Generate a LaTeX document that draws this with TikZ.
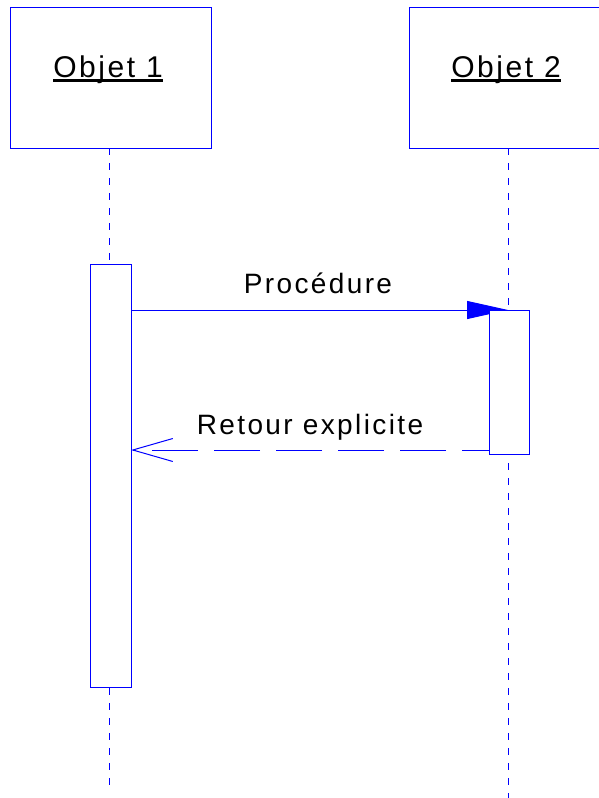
\documentclass[tikz,border=0pt]{standalone}
\usepackage{fontspec}
\setmainfont{Liberation Sans}[LetterSpace=8.5]
\usetikzlibrary{arrows.meta}
\begin{document}
\begin{tikzpicture}[x=1pt,y=-1pt,
  obj/.style={draw=blue, line width=1pt, minimum width=201pt, minimum height=141pt, inner sep=0pt, anchor=north west},
  act/.style={draw=blue, fill=white, line width=1pt, inner sep=0pt, anchor=north west},
  life/.style={draw=blue, line width=1pt, dash pattern=on 7pt off 8pt},
  ttl/.style={font=\fontsize{30}{32}\selectfont, inner sep=0pt, anchor=base},
  lbl/.style={font=\fontsize{28}{30}\selectfont, inner sep=0pt, anchor=base},
  uline/.style={line width=2.8pt, black},
  msg/.style={draw=blue, line width=1pt}]
\useasboundingbox (0,0) rectangle (599,798);
% objects
\node[obj] (o1) at (10,7) {};
\node[obj] (o2) at (409,7) {};
\node[ttl] (t1) at (108,77) {Objet 1};
\node[ttl] (t2) at (506,77) {Objet 2};
\draw[uline] ([yshift=-3.5pt]t1.base west) -- ([yshift=-3.5pt]t1.base east);
\draw[uline] ([yshift=-3.5pt]t2.base west) -- ([yshift=-3.5pt]t2.base east);
% lifelines
\coordinate (l1top) at (109.5,148);
\coordinate (l1end) at (109.5,785);
\coordinate (l2top) at (508,148);
\coordinate (l2end) at (508,798);
\draw[life] (l1top) -- (l1end);
\draw[life] (l2top) -- (l2end);
% activation 1
\node[act, minimum width=41pt, minimum height=423pt] (a1) at (90,264) {};
% call
\coordinate (c1) at (131,310);
\coordinate (c2) at (508,310);
\draw[msg, -{Triangle[length=41pt, width=18pt]}, blue] (c1) -- (c2);
\node[lbl] (lp) at (318,293) {Procédure};
% activation 2
\node[act, minimum width=40pt, minimum height=144pt] (a2) at (489,310) {};
% return
\coordinate (r1) at (489,450);
\coordinate (r2) at (131,450);
\draw[msg, dash pattern=on 46pt off 16pt, dash phase=19pt, -{Straight Barb[length=40pt, width=23pt, line width=1pt]}] (r1) -- (r2);
\node[lbl] (lr) at (310,434) {Retour explicite};
\end{tikzpicture}
\end{document}
